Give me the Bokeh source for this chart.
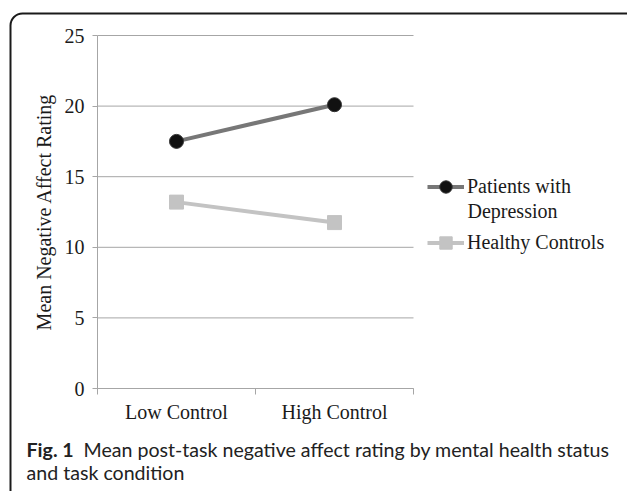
from bokeh.plotting import figure
from bokeh.models import (FixedTicker, Legend, LegendItem, Label, BoxAnnotation, Range1d)
from bokeh.embed import file_html
from bokeh.resources import INLINE

# ---- data ----
categories = ["Low Control", "High Control"]
patients = [17.5, 20.1]
healthy = [13.2, 11.75]
y_ticks = [0, 5, 10, 15, 20, 25]
series_names = ["Patients with", "Depression", "Healthy Controls"]
caption_bold = "Fig. 1"
caption_rest = "Mean post-task negative affect rating by mental health status"
caption_line2 = "and task condition"

SERIF = "Liberation Serif"
SANS = "Lato"
TXT = "#1a1a1a"
GRID = "#a6a6a6"

# ---- layout (pixels) ----
W, H = 627, 491
PX_L, PX_R, PX_T, PX_B = 97, 413, 35, 388   # data area in canvas pixels
n = len(categories)
ymax = y_ticks[-1]
sx = (PX_R - PX_L) / n
sy = (PX_B - PX_T) / ymax
x_range = Range1d(-PX_L / sx, n + (W - PX_R) / sx)
y_range = Range1d(-(H - PX_B) / sy, ymax + PX_T / sy)

p = figure(width=W, height=H, output_backend="svg", toolbar_location=None,
           x_range=x_range, y_range=y_range,
           min_border=0, min_border_left=0, min_border_right=0,
           min_border_top=0, min_border_bottom=0)
p.outline_line_color = None
p.background_fill_color = "white"
p.border_fill_color = "white"

xs = [i + 0.5 for i in range(n)]

# horizontal gridlines limited to the data area
p.xgrid.grid_line_color = None
p.ygrid.grid_line_color = None
p.segment(x0=[0] * len(y_ticks), x1=[n] * len(y_ticks), y0=y_ticks, y1=y_ticks,
          line_color=GRID, line_width=1)

# axes
xa = p.xaxis[0]
xa.fixed_location = 0
xa.bounds = (0, n)
xa.ticker = FixedTicker(ticks=xs, minor_ticks=list(range(n + 1)))
xa.major_label_overrides = {x: c for x, c in zip(xs, categories)}
xa.major_tick_out = 0
xa.major_tick_in = 0
xa.minor_tick_out = 6
xa.minor_tick_in = 0
xa.minor_tick_line_color = GRID
xa.axis_line_color = GRID
xa.major_label_text_font = SERIF
xa.major_label_text_font_size = "20px"
xa.major_label_text_color = TXT
xa.major_label_standoff = 6

ya = p.yaxis[0]
ya.fixed_location = 0
ya.bounds = (0, ymax)
ya.ticker = FixedTicker(ticks=y_ticks)
ya.major_tick_out = 5
ya.major_tick_in = 0
ya.minor_tick_line_color = None
ya.major_tick_line_color = GRID
ya.axis_line_color = GRID
ya.major_label_text_font = SERIF
ya.major_label_text_font_size = "20px"
ya.major_label_text_color = TXT
ya.major_label_standoff = 8
ya.axis_label = "Mean Negative Affect Rating"
ya.axis_label_text_font = SERIF
ya.axis_label_text_font_size = "20px"
ya.axis_label_text_font_style = "normal"
ya.axis_label_text_color = TXT
ya.axis_label_standoff = 7

# series
l1 = p.line(xs, patients, line_color="#777777", line_width=4)
s1 = p.scatter(xs, patients, marker="circle", size=14, fill_color="#111111", line_color="#333333")
l2 = p.line(xs, healthy, line_color="#c3c3c3", line_width=4)
s2 = p.scatter(xs, healthy, marker="square", size=14, fill_color="#c3c3c3", line_color="#c3c3c3")

GH = 31
leg_style = dict(border_line_alpha=0, background_fill_alpha=0, padding=0, margin=0,
                 glyph_width=37, glyph_height=GH, label_height=GH, label_standoff=3,
                 label_text_font=SERIF, label_text_font_size="20px", label_text_color=TXT)
leg1 = Legend(items=[LegendItem(label=series_names[0], renderers=[l1, s1])],
              location=(427, H - (186 + GH / 2)), **leg_style)
leg2 = Legend(items=[LegendItem(label=series_names[2], renderers=[l2, s2])],
              location=(427, H - (242 + GH / 2)), **leg_style)
p.add_layout(leg1, "center")
p.add_layout(leg2, "center")

p.add_layout(Label(x=467, y=210, x_units="canvas", y_units="canvas", text=series_names[1],
                   text_font=SERIF, text_font_size="20px", text_color=TXT,
                   text_baseline="middle"))

# caption
cap = dict(x_units="canvas", y_units="canvas", text_font=SANS, text_font_size="19.6px",
           text_color="#222222", text_baseline="middle")
p.add_layout(Label(x=26, y=449, text=caption_bold, text_font_style="bold", **cap))
p.add_layout(Label(x=83, y=449, text=caption_rest, **cap))
p.add_layout(Label(x=26, y=472, text=caption_line2, **cap))

# rounded outer box
p.add_layout(BoxAnnotation(left=10, right=W + 40, top=13, bottom=H + 40,
                           left_units="canvas", right_units="canvas",
                           top_units="canvas", bottom_units="canvas",
                           fill_alpha=0, line_color=TXT, line_alpha=1, line_width=2,
                           border_radius=12))

open("out.html", "w").write(file_html(p, INLINE))
